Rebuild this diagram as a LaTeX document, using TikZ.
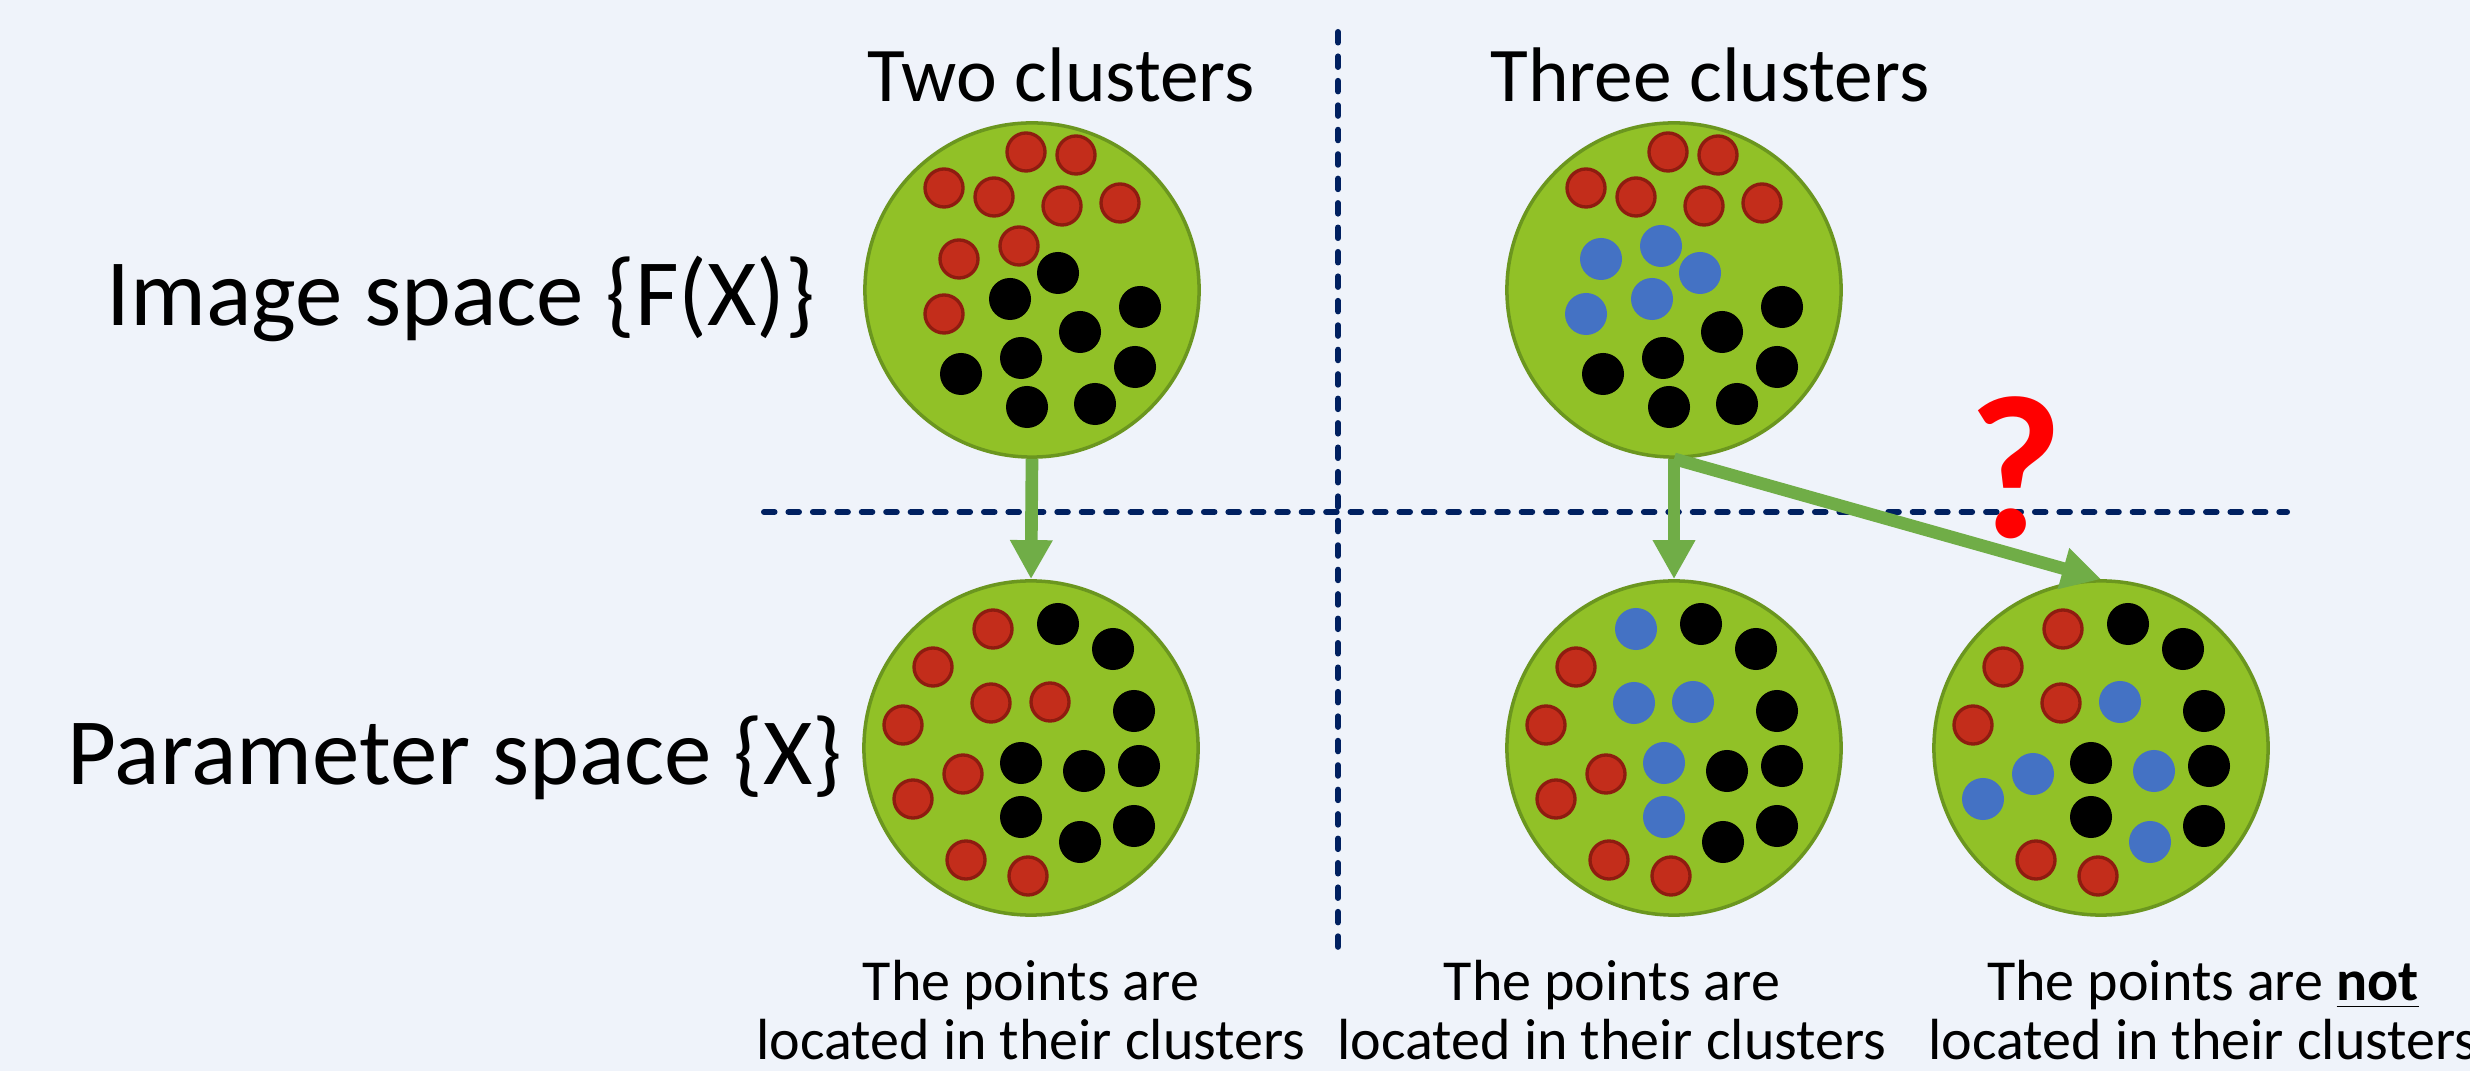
\documentclass[tikz,border=0pt]{standalone}
\usepackage{fontspec}
\setmainfont{Carlito}
\usetikzlibrary{arrows.meta,positioning}
\definecolor{bgblue}{RGB}{239,243,250}
\definecolor{blobgreen}{RGB}{145,193,39}
\definecolor{blobedge}{RGB}{107,150,31}
\definecolor{ptred}{RGB}{195,45,27}
\definecolor{ptredge}{RGB}{142,28,16}
\definecolor{ptblue}{RGB}{68,114,196}
\definecolor{flowgreen}{RGB}{112,173,71}
\definecolor{navy}{RGB}{0,32,96}
\tikzset{
  blob/.style={circle, draw=blobedge, fill=blobgreen, line width=1pt, minimum size=3.34cm, inner sep=0pt},
  redpt/.style={fill=ptred, draw=ptredge, line width=0.95pt},
  blackpt/.style={fill=black},
  bluept/.style={fill=ptblue},
  divider/.style={draw=navy, line width=1.7pt, line cap=round, dash pattern=on 3pt off 3.95pt},
  flow/.style={draw=flowgreen, line width=3.6pt, -{Triangle[length=3.9mm,width=4mm]}},
  heading/.style={font=\fontsize{22}{26}\selectfont, anchor=base},
  rowlabel/.style={font=\fontsize{27}{32}\selectfont, anchor=base},
  note/.style={font=\fontsize{16.5}{16.8}\selectfont, align=center, anchor=base}
}

\begin{document}
\begin{tikzpicture}[x=0.01cm, y=-0.01cm]
  \fill[bgblue] (0,0) rectangle (2470,1071);
  \useasboundingbox (0,0) rectangle (2470,1071);

  \draw[divider] (764,512) -- (2287,512);
  \draw[divider] (1338,32) -- (1338,948);

  \node[heading] (two) at (1061,102) {Two clusters};
  \node[heading] (three) at (1710,102) {Three clusters};
  \node[rowlabel] (imglab) at (461,326) {Image space \{F(X)\}};
  \node[rowlabel] (parlab) at (455,785) {Parameter space \{X\}};

  \node[blob] (img2) at (1032,290) {};
  \node[blob] (img3) at (1674,290) {};
  \node[blob] (par2) at (1031,748) {};
  \node[blob] (par3a) at (1674,748) {};
  \node[blob] (par3b) at (2101,748) {};

  % image space, two clusters
  \begin{scope}[shift={(img2.center)}]
    \foreach \px/\py in {-6/-138,44/-135,-88/-102,-38/-93,30/-84,88/-87,-73/-31,-13/-44,-88/24}
      \filldraw[redpt] (\px,\py) circle[radius=0.19cm];
    \foreach \px/\py in {26/-17,-22/9,108/17,48/42,-71/84,-11/68,103/77,-5/117,63/114}
      \fill[blackpt] (\px,\py) circle[radius=0.21cm];
  \end{scope}

  % image space, three clusters
  \begin{scope}[shift={(img3.center)}]
    \foreach \px/\py in {-6/-138,44/-135,-88/-102,-38/-93,30/-84,88/-87}
      \filldraw[redpt] (\px,\py) circle[radius=0.19cm];
    \foreach \px/\py in {-73/-31,-13/-44,-88/24,26/-17,-22/9}
      \fill[bluept] (\px,\py) circle[radius=0.21cm];
    \foreach \px/\py in {108/17,48/42,-71/84,-11/68,103/77,-5/117,63/114}
      \fill[blackpt] (\px,\py) circle[radius=0.21cm];
  \end{scope}

  % parameter space
  \begin{scope}[shift={(par2.center)}]
    \foreach \px/\py in {-38/-119,-98/-81,-40/-45,19/-46,-128/-23,-68/26,-118/51,-65/112,-3/128}
      \filldraw[redpt] (\px,\py) circle[radius=0.19cm];
    \foreach \px/\py in {27/-124,82/-99,103/-37,-10/15,53/23,108/18,-10/69,49/94,103/78}
      \fill[blackpt] (\px,\py) circle[radius=0.21cm];
  \end{scope}

  \begin{scope}[shift={(par3a.center)}]
    \foreach \px/\py in {-98/-81,-128/-23,-68/26,-118/51,-65/112,-3/128}
      \filldraw[redpt] (\px,\py) circle[radius=0.19cm];
    \foreach \px/\py in {-38/-119,-40/-45,19/-46,-10/15,-10/69}
      \fill[bluept] (\px,\py) circle[radius=0.21cm];
    \foreach \px/\py in {27/-124,82/-99,103/-37,53/23,108/18,49/94,103/78}
      \fill[blackpt] (\px,\py) circle[radius=0.21cm];
  \end{scope}

  \begin{scope}[shift={(par3b.center)}]
    \foreach \px/\py in {-38/-119,-98/-81,-40/-45,-128/-23,-65/112,-3/128}
      \filldraw[redpt] (\px,\py) circle[radius=0.19cm];
    \foreach \px/\py in {19/-46,-68/26,-118/51,53/23,49/94}
      \fill[bluept] (\px,\py) circle[radius=0.21cm];
    \foreach \px/\py in {27/-124,82/-99,103/-37,-10/15,108/18,-10/69,103/78}
      \fill[blackpt] (\px,\py) circle[radius=0.21cm];
  \end{scope}

  \draw[flow] (img2.south) -- (par2.north);
  \draw[flow] (img3.south) -- (par3a.north);
  \draw[flow] (img3.south) -- (par3b.north);

  \node[font=\fontsize{58}{60}\selectfont\bfseries, text=red] (qmark) at (2016,468) {?};

  \node[note] (note2) at (1031,1060) {The points are\\located in their clusters};
  \node[note] (note3a) at (1612,1060) {The points are\\located in their clusters};
  \node[note] (note3b) at (2203,1060) {The points are \underline{\textbf{not}}\\located in their clusters};
\end{tikzpicture}
\end{document}
